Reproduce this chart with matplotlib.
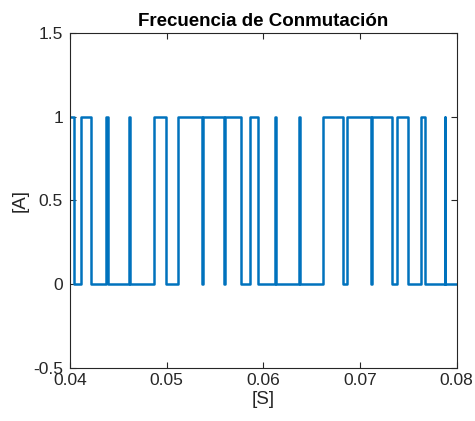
import matplotlib
matplotlib.use("Agg")
import matplotlib.pyplot as plt
from matplotlib.ticker import FormatStrFormatter, FuncFormatter

# switching instants [s]; the output toggles at each one, starting high
t_start = 0.04
t_end = 0.08
level_start = 1
switch_times = [
    0.04041, 0.04117, 0.04214, 0.04370, 0.04392, 0.04615, 0.04622,
    0.04869, 0.04993, 0.05120, 0.05369, 0.05374, 0.05595, 0.05605,
    0.05765, 0.05861, 0.05941, 0.06124, 0.06130, 0.06374, 0.06384,
    0.06620, 0.06820, 0.06868, 0.07117, 0.07122, 0.07327, 0.07379,
    0.07499, 0.07627, 0.07671, 0.07875, 0.07881,
]

x_ticks = [0.04, 0.05, 0.06, 0.07, 0.08]
y_ticks = [-0.5, 0, 0.5, 1, 1.5]


def build_steps(t0, t1, level0, edges):
    t = [t0]
    y = [level0]
    lev = level0
    for e in edges:
        lev = 1 - lev
        t.append(e)
        y.append(lev)
    t.append(t1)
    y.append(lev)
    return t, y


def main():
    plt.rcParams['font.family'] = ['Liberation Sans', 'DejaVu Sans']
    fig = plt.figure(figsize=(4.75, 4.21), dpi=100)
    ax = fig.add_axes([0.1474, 0.1266, 0.814, 0.795])

    t, y = build_steps(t_start, t_end, level_start, switch_times)
    ax.plot(t, y, drawstyle='steps-post', color='#0072BD', linewidth=1.8)

    ax.set_xlim(t_start, t_end)
    ax.set_ylim(-0.5, 1.5)
    ax.set_xticks(x_ticks)
    ax.set_yticks(y_ticks)
    ax.xaxis.set_major_formatter(FormatStrFormatter('%.2f'))
    ax.yaxis.set_major_formatter(FuncFormatter(lambda v, p: '%g' % v))

    ax.tick_params(direction='in', top=True, right=True, length=4,
                   width=0.8, colors='#262626', labelsize=12.5)
    ax.tick_params(axis='x', pad=4)
    ax.tick_params(axis='y', pad=5)
    for s in ax.spines.values():
        s.set_color('#262626')
        s.set_linewidth(0.8)

    ax.set_title('Frecuencia de Conmutación', fontsize=13.5,
                 fontweight='bold', color='black', pad=5)
    ax.set_xlabel('[S]', fontsize=13.5, color='#262626', labelpad=2)
    ax.set_ylabel('[A]', fontsize=13.5, color='#262626', labelpad=3)

    fig.savefig('out.png', dpi=100)


if __name__ == '__main__':
    main()
